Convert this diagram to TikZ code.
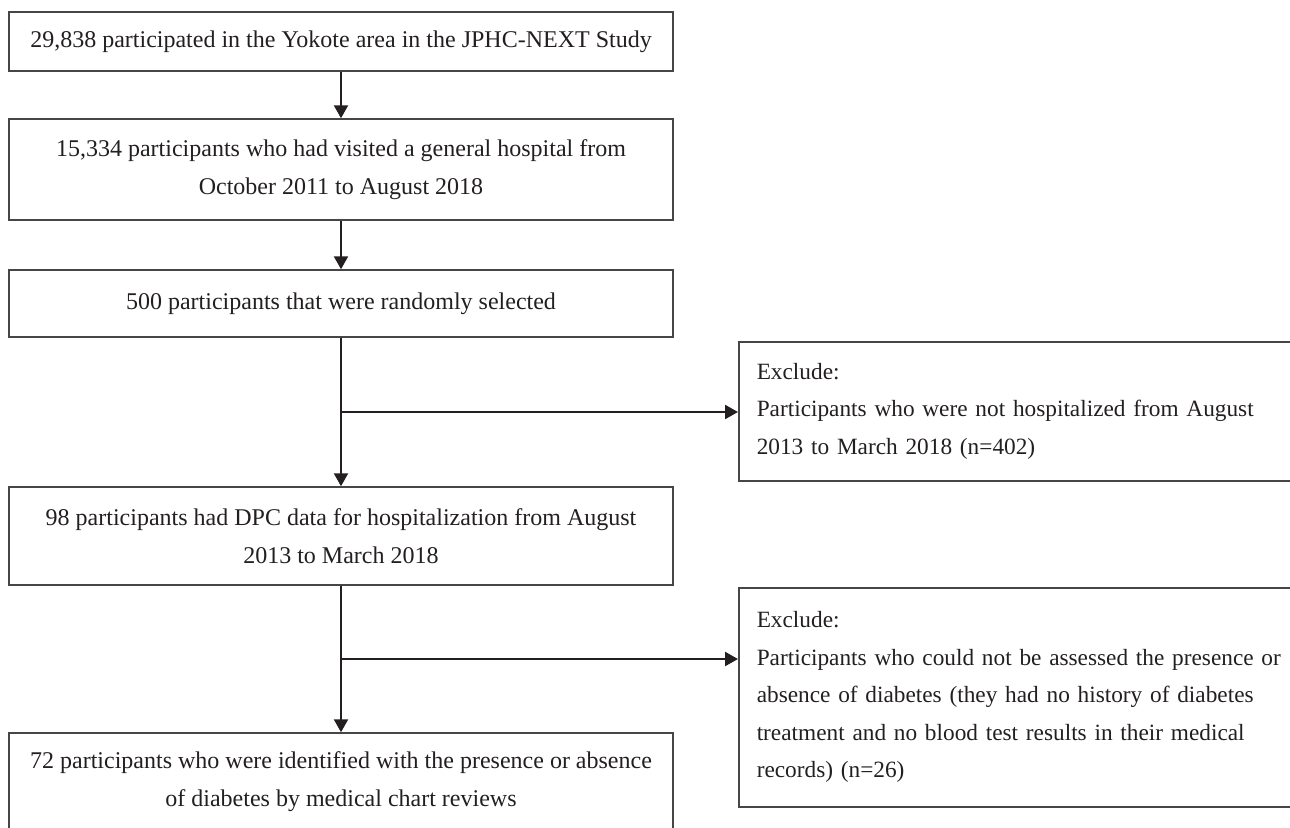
\documentclass[tikz,border=0pt]{standalone}
\usepackage{fontspec}
\setmainfont{Liberation Serif}
\usepackage{xcolor}
\usepackage{tikz}
\usetikzlibrary{arrows.meta, positioning}
\definecolor{boxgray}{RGB}{70, 70, 70}
\definecolor{inkblack}{RGB}{35, 31, 32}

\begin{document}
\begin{tikzpicture}[
        x=1pt, y=-1pt,
        mainbox/.style={rectangle, draw=boxgray, line width=1.5pt, minimum width=664pt, align=center, text=inkblack, font=\fontsize{24}{38}\selectfont},
        exclbox/.style={rectangle, draw=boxgray, line width=1.5pt, minimum width=562pt, text width=526pt, inner xsep=18pt, align=left, anchor=north west, text=inkblack, font=\fontsize{23.3}{37.5}\selectfont},
        arrow/.style={-{Triangle[length=13pt, width=14pt]}, line width=2.3pt, color=inkblack}
    ]
        \useasboundingbox (0,0) rectangle (1290,827);

        % Main flow (left column)
        \node[mainbox, minimum height=59pt] (total) at (341, 41.5) {29,838 participated in the Yokote area in the JPHC-NEXT Study};
        \node[mainbox, minimum height=101pt] (visited) at (341, 169.5) {15,334 participants who had visited a general hospital from\\October 2011 to August 2018};
        \node[mainbox, minimum height=67pt] (random) at (341, 303.5) {500 participants that were randomly selected};
        \node[mainbox, minimum height=98pt] (dpc) at (341, 536) {98 participants had DPC data for hospitalization from August\\2013 to March 2018};
        \node[mainbox, minimum height=98pt] (final) at (341, 782) {72 participants who were identified with the presence or absence\\of diabetes by medical chart reviews};

        % Exclusions (right column)
        \node[exclbox, minimum height=139pt] (excl1) at (738, 341) {Exclude:\\Participants who were not hospitalized from August\\2013 to March 2018 (n=402)};
        \node[exclbox, minimum height=219pt] (excl2) at (738, 587) {Exclude:\\Participants who could not be assessed the presence or\\absence of diabetes (they had no history of diabetes\\treatment and no blood test results in their medical\\records) (n=26)};

        % Main connections
        \draw[arrow] (total) -- (visited);
        \draw[arrow] (visited) -- (random);
        \draw[arrow] (random) -- (dpc);
        \draw[arrow] (dpc) -- (final);

        % Branches to exclusion boxes
        \coordinate (split1) at (341, 412);
        \coordinate (split2) at (341, 659);
        \draw[arrow] (split1) -- (split1 -| excl1.west);
        \draw[arrow] (split2) -- (split2 -| excl2.west);
    \end{tikzpicture}
\end{document}
